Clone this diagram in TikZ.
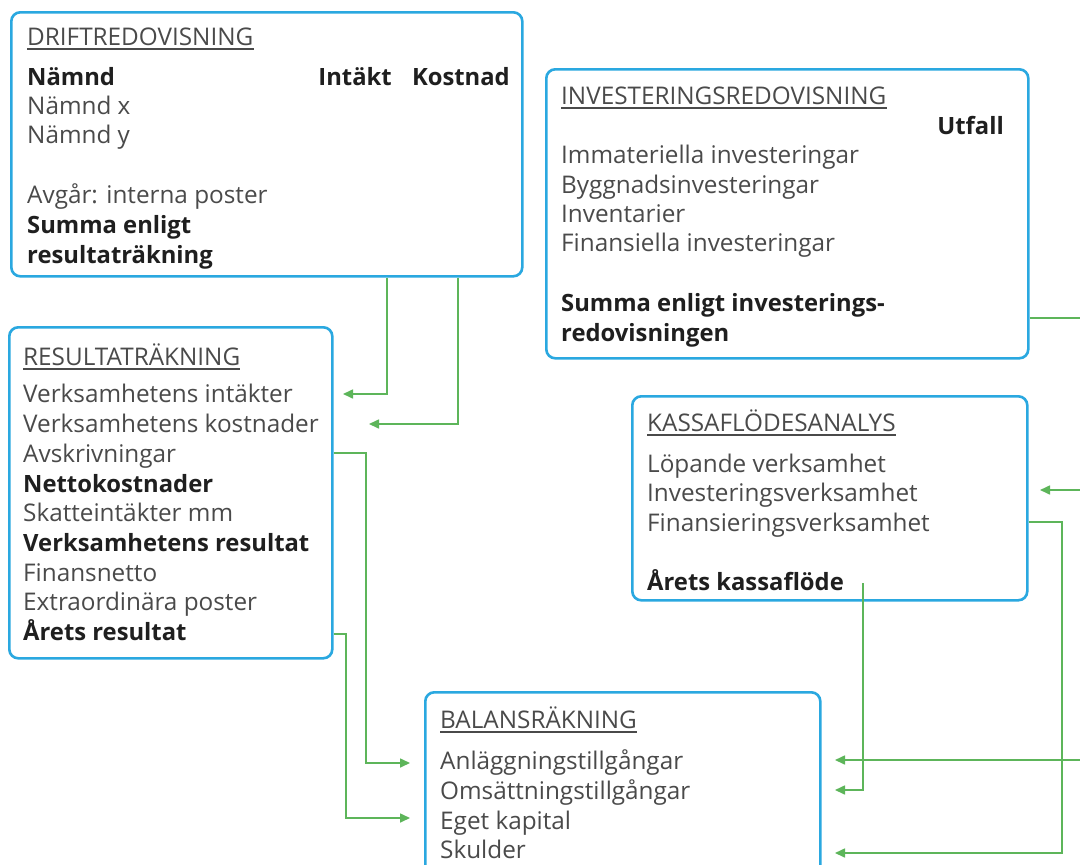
\documentclass[tikz,border=0pt]{standalone}
\usepackage{fontspec}
\setmainfont{Open Sans}
\usetikzlibrary{arrows.meta,calc}
\definecolor{boxblue}{HTML}{2AA8E0}
\definecolor{lnkgreen}{HTML}{5DB55A}
\definecolor{txtgray}{HTML}{4A4A4A}
\definecolor{txtdark}{HTML}{1F1F1F}
\tikzset{
 panel/.style={draw=boxblue, line width=2.6pt, rounded corners=9pt, fill=white, anchor=north west, inner sep=0pt},
 txt/.style={anchor=base west, inner sep=0pt, text=txtgray, font=\fontsize{24.3}{28}\selectfont},
 btxt/.style={txt, text=txtdark, font=\fontsize{23.8}{28}\selectfont\bfseries},
 uline/.style={draw=txtgray, line width=1.4pt},
 conn/.style={draw=lnkgreen, line width=1.6pt, -{Triangle[length=10pt,width=9pt]}},
 link/.style={draw=lnkgreen, line width=1.6pt},
}
\begin{document}
\begin{tikzpicture}[x=1pt,y=-1pt]
\useasboundingbox (0,0) rectangle (1080,865);
\clip (0,0) rectangle (1080,865);
\fill[white] (0,0) rectangle (1080,865);

% panels
\node[panel, minimum width=511pt, minimum height=264pt] (drift) at (10,11) {};
\node[panel, minimum width=482pt, minimum height=289pt] (inv) at (545,68) {};
\node[panel, minimum width=323pt, minimum height=331pt] (res) at (8,326) {};
\node[panel, minimum width=395pt, minimum height=204pt] (kas) at (631,395) {};
\node[panel, minimum width=395pt, minimum height=210pt] (bal) at (424,691) {};

% DRIFTREDOVISNING
\node[txt] (dt) at (27,45) {DRIFTREDOVISNING};
\draw[uline] ($(dt.base west)+(0,4)$) -- ($(dt.base east)+(0,4)$);
\node[btxt] (dh) at (27,85) {Nämnd};
\node[btxt, anchor=base east] (dhi) at (392,85) {Intäkt};
\node[btxt, anchor=base east] (dhk) at (510,85) {Kostnad};
\node[txt] (d1) at (27,114) {Nämnd x};
\node[txt] (d2) at (27,143) {Nämnd y};
\node[txt] (d3) at (27,203) {Avgår: interna poster};
\node[btxt] (d4) at (27,233) {Summa enligt};
\node[btxt] (d5) at (27,263) {resultaträkning};

% INVESTERINGSREDOVISNING
\node[txt] (it) at (561,104) {INVESTERINGSREDOVISNING};
\draw[uline] ($(it.base west)+(0,4)$) -- ($(it.base east)+(0,4)$);
\node[btxt, anchor=base east] (iu) at (1004,134) {Utfall};
\node[txt] (i1) at (561,163) {Immateriella investeringar};
\node[txt] (i2) at (561,193) {Byggnadsinvesteringar};
\node[txt] (i3) at (561,222) {Inventarier};
\node[txt] (i4) at (561,251) {Finansiella investeringar};
\node[btxt] (i5) at (561,311) {Summa enligt investerings-};
\node[btxt] (i6) at (561,341) {redovisningen};

% RESULTATRÄKNING
\node[txt] (rt) at (23,365) {RESULTATRÄKNING};
\draw[uline] ($(rt.base west)+(0,4)$) -- ($(rt.base east)+(0,4)$);
\node[txt] (r1) at (23,402) {Verksamhetens intäkter};
\node[txt] (r2) at (23,432) {Verksamhetens kostnader};
\node[txt] (r3) at (23,462) {Avskrivningar};
\node[btxt] (r4) at (23,492) {Nettokostnader};
\node[txt] (r5) at (23,521) {Skatteintäkter mm};
\node[btxt] (r6) at (23,551) {Verksamhetens resultat};
\node[txt] (r7) at (23,581) {Finansnetto};
\node[txt] (r8) at (23,610) {Extraordinära poster};
\node[btxt] (r9) at (23,640) {Årets resultat};

% KASSAFLÖDESANALYS
\node[txt] (kt) at (647,431) {KASSAFLÖDESANALYS};
\draw[uline] ($(kt.base west)+(0,4)$) -- ($(kt.base east)+(0,4)$);
\node[txt] (k1) at (647,472) {Löpande verksamhet};
\node[txt] (k2) at (647,501) {Investeringsverksamhet};
\node[txt] (k3) at (647,531) {Finansieringsverksamhet};
\node[btxt] (k4) at (647,590) {Årets kassaflöde};

% BALANSRÄKNING
\node[txt] (bt) at (440,728) {BALANSRÄKNING};
\draw[uline] ($(bt.base west)+(0,4)$) -- ($(bt.base east)+(0,4)$);
\node[txt] (b1) at (440,769) {Anläggningstillgångar};
\node[txt] (b2) at (440,799) {Omsättningstillgångar};
\node[txt] (b3) at (440,829) {Eget kapital};
\node[txt] (b4) at (440,858) {Skulder};

% helper coordinates
\coordinate (xa) at (387,0);
\coordinate (xb) at (458,0);
\coordinate (ya) at (0,453);
\coordinate (yb) at (0,634);
\coordinate (yc) at (0,318);
\coordinate (yd) at (0,522);
\coordinate (r1tip) at (343,394);
\coordinate (r2tip) at (369,424);
\coordinate (aturn) at (366,453);
\coordinate (b1tip) at (410,763);
\coordinate (bturn) at (346,634);
\coordinate (b3tip) at (410,818);
\coordinate (ioff) at (1092,318);
\coordinate (ioffd) at (1092,760);
\coordinate (k2off) at (1092,490);
\coordinate (k2tip) at (1040,490);
\coordinate (b1rtip) at (835,760);
\coordinate (kfin) at (1062,522);
\coordinate (b4rtip) at (835,853);
\coordinate (kstart) at (863,583);
\coordinate (b2rtip) at (835,790);

% connectors
\draw[conn] (drift.south -| xa) |- (r1tip);
\draw[conn] (drift.south -| xb) |- (r2tip);
\draw[conn] (res.east |- ya) -- (aturn) |- (b1tip);
\draw[conn] (res.east |- yb) -- (bturn) |- (b3tip);
\draw[link] (inv.east |- yc) -- (ioff) -- (ioffd);
\draw[conn] (ioffd) -- (b1rtip);
\draw[conn] (k2off) -- (k2tip);
\draw[conn] (kas.east |- yd) -- (kfin) |- (b4rtip);
\draw[conn] (kstart) |- (b2rtip);
\end{tikzpicture}
\end{document}
